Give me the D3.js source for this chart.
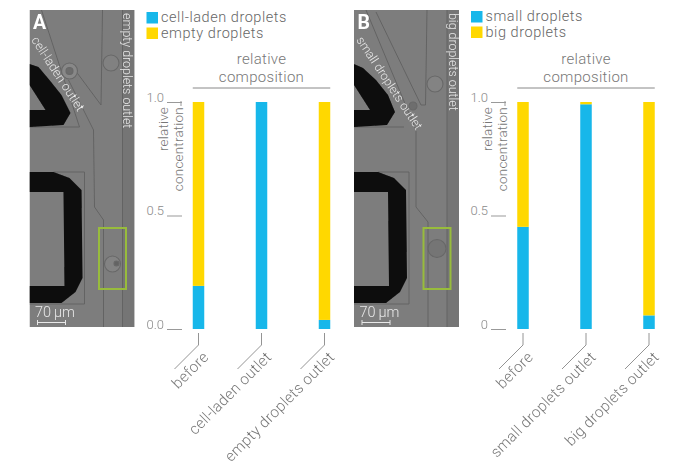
<!DOCTYPE html>
<html>
<head>
<meta charset="utf-8">
<script src="https://cdnjs.cloudflare.com/ajax/libs/d3/7.8.5/d3.min.js"></script>
<style>
  html, body { margin: 0; padding: 0; background: #fff; }
  svg { display: block; font-family: Roboto, sans-serif; font-weight: 300; }
  .axis .domain { display: none; }
</style>
</head>
<body>
<svg id="chart" width="700" height="468"></svg>
<script>
const categoriesA = ['before', 'cell-laden outlet', 'empty droplets outlet'];
const blueA = [0.19, 1.0, 0.04];
const yellowA = [0.81, 0.0, 0.96];
const legendA = ['cell-laden droplets', 'empty droplets'];
const tickLabelsA = ['0.0', '0.5', '1.0'];

const categoriesB = ['before', 'small droplets outlet', 'big droplets outlet'];
const blueB = [0.45, 0.99, 0.06];
const yellowB = [0.55, 0.01, 0.94];
const legendB = ['small droplets', 'big droplets'];
const tickLabelsB = ['0', '0.5', '1.0'];

const tickValues = [0, 0.5, 1];
const blue = '#17b7ea', yellow = '#ffd800';

const svg = d3.select('#chart');
const defs = svg.append('defs');
defs.append('filter').attr('id', 'soft').append('feGaussianBlur').attr('stdDeviation', 0.7);
defs.append('filter').attr('id', 'softer').append('feGaussianBlur').attr('stdDeviation', 0.3);

const y = d3.scaleLinear().domain([0, 1]).range([329, 102]);

// microscope photo, redrawn as shapes. everything is relative to the left edge of the photo
function drawPhoto(g, letter, p) {
    const w = 105, top = 10, bottom = 327;
    const clipId = 'clip' + letter;
    defs.append('clipPath').attr('id', clipId)
        .append('rect').attr('x', 0).attr('y', top).attr('width', w).attr('height', bottom - top);

    const inner = g.append('g').attr('clip-path', 'url(#' + clipId + ')');
    inner.append('rect').attr('y', top).attr('width', w).attr('height', bottom - top).attr('fill', '#7d7d7d');
    inner.append('rect').attr('x', 93).attr('y', top).attr('width', 12).attr('height', bottom - top).attr('fill', '#757575');

    const blurred = inner.append('g').attr('filter', 'url(#soft)');
    p.walls.forEach(d => {
        blurred.append('path').attr('d', d).attr('fill', 'none').attr('stroke', '#636363').attr('stroke-width', 1);
    });
    blurred.append('path').attr('d', p.topBlack).attr('fill', '#0a0a0a');
    blurred.append('path').attr('d', p.bottomBlack).attr('fill', '#0a0a0a').attr('fill-rule', 'evenodd');
    p.drops.forEach(c => {
        blurred.append('circle').attr('cx', c[0]).attr('cy', c[1]).attr('r', c[2])
            .attr('fill', c[3]).attr('stroke', '#686868').attr('stroke-width', 1.1);
    });

    g.append('rect').attr('x', 69.5).attr('y', 228).attr('width', 27).attr('height', 61)
        .attr('fill', 'none').attr('stroke', '#98bc3c').attr('stroke-width', 2);

    const label = g.append('g').attr('filter', 'url(#softer)').attr('fill', '#e8e8e8');
    label.append('text').attr('x', 3.5).attr('y', 29)
        .attr('font-size', 19.5).attr('font-weight', 700).attr('fill', '#fff').text(letter);
    label.append('text').attr('transform', p.diagTransform).attr('font-size', p.diagSize).text(p.diagText);
    label.append('text').attr('transform', p.sideTransform).attr('font-size', 12.4).text(p.sideText);
    label.append('text').attr('x', 5.5).attr('y', 316.5).attr('font-size', 14.5).text('70\u2009µm');

    const bar = g.append('g').attr('stroke', '#e8e8e8').attr('stroke-width', 1);
    bar.append('line').attr('x1', 8).attr('x2', 36).attr('y1', 322.5).attr('y2', 322.5);
    bar.append('line').attr('x1', 8).attr('x2', 8).attr('y1', 320).attr('y2', 325);
    bar.append('line').attr('x1', 36).attr('x2', 36).attr('y1', 320).attr('y2', 325);
}

function drawBars(g, o) {
    const x = d3.scalePoint().domain(o.categories).range(o.xRange);
    const rows = o.categories.map((c, i) => ({ cat: c, blue: o.blue[i], yellow: o.yellow[i] }));
    const stacked = d3.stack().keys(['blue', 'yellow'])(rows);
    const colour = d3.scaleOrdinal().domain(['blue', 'yellow']).range([blue, yellow]);
    const barWidth = 11.5;

    // legend
    const legend = g.selectAll('.legend').data(o.legend).join('g').attr('class', 'legend')
        .attr('transform', (d, i) => 'translate(' + o.legendX + ',' + (o.legendY + i * 15.5) + ')');
    legend.append('rect').attr('width', 11.5).attr('height', 11.5)
        .attr('fill', (d, i) => [blue, yellow][i]);
    legend.append('text').attr('x', 14.5).attr('y', 10).attr('font-size', 14.5).attr('fill', '#666')
        .style('letter-spacing', '0.55px').text(d => d);

    // title over the bars
    const mid = (o.xRange[0] + o.xRange[1]) / 2;
    ['relative', 'composition'].forEach((t, i) => {
        g.append('text').attr('x', mid).attr('y', 64 + i * 18).attr('text-anchor', 'middle')
            .attr('font-size', 15).attr('fill', '#777').style('letter-spacing', '0.3px').text(t);
    });
    g.append('line').attr('x1', o.xRange[0] - barWidth / 2).attr('x2', o.xRange[1] + barWidth / 2)
        .attr('y1', 88).attr('y2', 88).attr('stroke', '#888').attr('stroke-width', 1);

    // stacked bars
    g.selectAll('.series').data(stacked).join('g').attr('class', 'series')
        .attr('fill', d => colour(d.key))
        .selectAll('rect').data(d => d).join('rect')
        .attr('x', d => x(d.data.cat) - barWidth / 2)
        .attr('width', barWidth)
        .attr('y', d => y(d[1]))
        .attr('height', d => y(d[0]) - y(d[1]));

    // y axis
    const axis = g.append('g').attr('class', 'axis')
        .attr('transform', 'translate(' + o.axisX + ',0)')
        .call(d3.axisLeft(y).tickValues(tickValues).tickSize(15).tickPadding(3)
            .tickFormat((d, i) => o.tickLabels[i]));
    axis.selectAll('line').attr('stroke', '#999');
    axis.selectAll('text').attr('font-size', 13).attr('font-family', 'Roboto, sans-serif')
        .attr('fill', '#8a8a8a').attr('dy', '-0.05em');

    g.append('line').attr('x1', o.axisX - 1).attr('x2', o.axisX - 1).attr('y1', 101).attr('y2', 106)
        .attr('stroke', '#999');
    ['relative', 'concentration'].forEach((t, i) => {
        g.append('text')
            .attr('transform', 'translate(' + (o.axisX - 14.5 + i * 15) + ',107) rotate(-90)')
            .attr('text-anchor', 'end').attr('font-size', 13.5).attr('fill', '#777')
            .style('letter-spacing', '0.2px').text(t);
    });

    // leader lines and category labels
    const tick = g.selectAll('.cat').data(o.categories).join('g').attr('class', 'cat')
        .attr('transform', d => 'translate(' + x(d) + ',0)');
    tick.append('path').attr('d', 'M0,333V345L-24,369')
        .attr('fill', 'none').attr('stroke', '#888').attr('stroke-width', 0.9);
    tick.append('text').attr('transform', 'translate(11,358) rotate(-45)')
        .attr('text-anchor', 'end').attr('font-size', 15.2).attr('fill', '#777')
        .style('letter-spacing', '0.3px').text(d => d);
}

const photoA = {
    topBlack: 'M0,64L9,67L20,80L32,95L41,113L34,125L0,127V110H16L0,85Z',
    bottomBlack: 'M0,172H24L40,178L52,190L53,278L46,292L32,303H0ZM0,192V286H35L34,192Z',
    walls: [
        'M12,10L50,127H0',
        'M73,10L71.5,105L45.5,70',
        'M39,80L64,130L65,207L74,220V327',
        'M93,10V327',
        'M24,172H55V304H0'
    ],
    drops: [
        [40, 71, 8, '#888'], [40, 71, 3.5, '#6c6c6c'],
        [81.5, 63, 8, '#818181'],
        [83, 264, 8, '#838383'], [87, 263.5, 2.5, '#646464']
    ],
    diagText: 'cell-laden outlet', diagSize: 12.5,
    diagTransform: 'translate(1.5,40) rotate(57)',
    sideText: 'empty droplets outlet',
    sideTransform: 'translate(93.5,13) rotate(90)'
};

const photoB = {
    topBlack: 'M0,64L9,68L22,80L34,95L41,112L33,125L0,127V110H16L0,85Z',
    bottomBlack: 'M0,172H24L40,178L52,190L53,278L46,292L32,303H0ZM0,192V286H35L34,192Z',
    walls: [
        'M12,10L62,130V207L74,222V327',
        'M73,10L71.5,105H67L22,12',
        'M93,10V327',
        'M0,127H50',
        'M24,172H55V304H0'
    ],
    drops: [
        [81, 84, 8, '#838383'],
        [59, 106, 4, '#6e6e6e'],
        [83, 248.5, 9, '#747474']
    ],
    diagText: 'small droplets outlet', diagSize: 12.2,
    diagTransform: 'translate(2,40) rotate(56.5)',
    sideText: 'big droplets outlet',
    sideTransform: 'translate(94.5,13) rotate(90)'
};

drawPhoto(svg.append('g').attr('transform', 'translate(29.5,0)'), 'A', photoA);
drawPhoto(svg.append('g').attr('transform', 'translate(354,0)'), 'B', photoB);

drawBars(svg.append('g'), {
    categories: categoriesA, blue: blueA, yellow: yellowA, legend: legendA, tickLabels: tickLabelsA,
    xRange: [198.5, 324.5], axisX: 182, legendX: 146.5, legendY: 12
});
drawBars(svg.append('g'), {
    categories: categoriesB, blue: blueB, yellow: yellowB, legend: legendB, tickLabels: tickLabelsB,
    xRange: [523, 649], axisX: 506, legendX: 471, legendY: 11
});
</script>
</body>
</html>
